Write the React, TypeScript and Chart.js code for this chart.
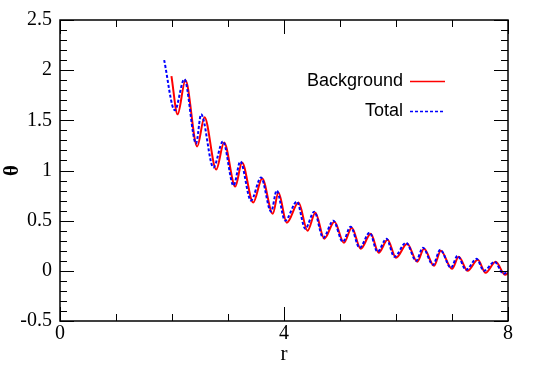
import { useEffect, useRef } from 'react';
import { Chart, registerables } from 'chart.js';

Chart.register(...registerables);

// Background (red, solid)
const bgX = [1.99, 2.10, 2.24, 2.45, 2.58, 2.79, 2.93, 3.13, 3.25, 3.45, 3.61, 3.80, 3.90, 4.05, 4.26, 4.42, 4.56, 4.72, 4.90, 5.07, 5.21, 5.37, 5.55, 5.69, 5.85, 6.00, 6.20, 6.38, 6.50, 6.68, 6.80, 7.00, 7.12, 7.28, 7.46, 7.60, 7.78, 7.95, 8.0];
const bgY = [1.94, 1.56, 1.90, 1.24, 1.53, 1.01, 1.28, 0.84, 1.08, 0.68, 0.92, 0.57, 0.78, 0.48, 0.68, 0.40, 0.58, 0.32, 0.49, 0.28, 0.43, 0.22, 0.37, 0.18, 0.31, 0.13, 0.27, 0.09, 0.22, 0.05, 0.20, 0.02, 0.14, 0.00, 0.11, -0.02, 0.09, -0.04, -0.02];

// Total (blue, dashed)
const totX = [1.86, 2.05, 2.22, 2.43, 2.52, 2.74, 2.91, 3.10, 3.22, 3.41, 3.59, 3.77, 3.87, 4.02, 4.23, 4.38, 4.54, 4.70, 4.88, 5.05, 5.19, 5.35, 5.53, 5.67, 5.83, 5.97, 6.18, 6.36, 6.48, 6.66, 6.79, 6.98, 7.10, 7.25, 7.44, 7.57, 7.76, 7.92, 8.0];
const totY = [2.10, 1.60, 1.91, 1.27, 1.56, 1.03, 1.29, 0.85, 1.09, 0.70, 0.93, 0.59, 0.80, 0.50, 0.69, 0.42, 0.59, 0.33, 0.50, 0.29, 0.44, 0.23, 0.38, 0.19, 0.32, 0.14, 0.28, 0.10, 0.23, 0.06, 0.21, 0.03, 0.15, 0.01, 0.12, 0.00, 0.09, -0.03, 0.00];

const seriesLabels = ['Background', 'Total'];
const xRange = [0, 8];
const yRange = [-0.5, 2.5];
const xMajor = 4;
const xMinor = 1;
const yMajor = 0.5;
const yMinor = 0.1;

const framePlugin = {
  id: 'frame',
  afterDraw(chart: any) {
    const { ctx, chartArea, scales } = chart;
    const { left, right, top, bottom } = chartArea;
    const xs = scales.x;
    const ys = scales.y;
    ctx.save();
    ctx.strokeStyle = '#000';
    ctx.lineWidth = 1;
    const nx = Math.round((xRange[1] - xRange[0]) / xMinor);
    for (let i = 0; i <= nx; i++) {
      const v = xRange[0] + i * xMinor;
      const major = Math.abs(v / xMajor - Math.round(v / xMajor)) < 1e-6;
      const len = major ? 14 : 7;
      const px = Math.round(xs.getPixelForValue(v)) + 0.5;
      ctx.beginPath();
      ctx.moveTo(px, bottom);
      ctx.lineTo(px, bottom - len);
      ctx.moveTo(px, top);
      ctx.lineTo(px, top + len);
      ctx.stroke();
    }
    const ny = Math.round((yRange[1] - yRange[0]) / yMinor);
    for (let i = 0; i <= ny; i++) {
      const v = yRange[0] + i * yMinor;
      const major = Math.abs(v / yMajor - Math.round(v / yMajor)) < 1e-6;
      const len = major ? 14 : 7;
      const py = Math.round(ys.getPixelForValue(v)) + 0.5;
      ctx.beginPath();
      ctx.moveTo(left, py);
      ctx.lineTo(left + len, py);
      ctx.moveTo(right, py);
      ctx.lineTo(right - len, py);
      ctx.stroke();
    }
    ctx.lineWidth = 1.5;
    ctx.strokeRect(left, top, right - left, bottom - top);

    // legend
    ctx.font = '18px "Liberation Sans", Arial, sans-serif';
    ctx.textAlign = 'right';
    ctx.textBaseline = 'middle';
    ctx.fillStyle = '#000';
    const ds = chart.data.datasets;
    const rows = [81, 111];
    ds.forEach((d: any, i: number) => {
      const yy = rows[i];
      ctx.fillText(d.label, 403, yy);
      ctx.beginPath();
      ctx.strokeStyle = d.borderColor;
      ctx.lineWidth = 1.5;
      ctx.setLineDash(d.borderDash || []);
      ctx.moveTo(410, yy + 0.5);
      ctx.lineTo(445, yy + 0.5);
      ctx.stroke();
      ctx.setLineDash([]);
    });
    ctx.restore();
  },
};

const fmt = (v: any) => String(Math.round(Number(v) * 10) / 10);

export default function App() {
  const ref = useRef<HTMLCanvasElement>(null);
  useEffect(() => {
    if (!ref.current) return;
    const serif = '"Liberation Serif", "Times New Roman", serif';
    const chart = new Chart(ref.current, {
      type: 'line',
      data: {
        datasets: [
          {
            label: seriesLabels[0],
            data: bgX.map((x, i) => ({ x, y: bgY[i] })),
            borderColor: '#ff0000',
            borderWidth: 2,
            pointRadius: 0,
            cubicInterpolationMode: 'monotone',
            fill: false,
            order: 2,
          },
          {
            label: seriesLabels[1],
            data: totX.map((x, i) => ({ x, y: totY[i] })),
            borderColor: '#0000ff',
            borderWidth: 2,
            borderDash: [3, 2],
            pointRadius: 0,
            cubicInterpolationMode: 'monotone',
            fill: false,
            order: 1,
          },
        ],
      },
      options: {
        responsive: false,
        animation: false,
        devicePixelRatio: 1,
        layout: { padding: { top: 14, right: 37, left: 0, bottom: 0 } },
        plugins: { legend: { display: false }, tooltip: { enabled: false } },
        scales: {
          x: {
            type: 'linear',
            min: xRange[0],
            max: xRange[1],
            grid: { display: false, drawTicks: false },
            border: { display: false },
            ticks: { stepSize: xMajor, color: '#000', font: { family: serif, size: 20 }, padding: 1, maxRotation: 0, callback: fmt },
            title: { display: true, text: 'r', color: '#000', font: { family: serif, size: 21 }, padding: { top: 0, bottom: 15 } },
            afterFit: (s: any) => { s.height = 61; },
          },
          y: {
            type: 'linear',
            min: yRange[0],
            max: yRange[1],
            grid: { display: false, drawTicks: false },
            border: { display: false },
            ticks: { stepSize: yMajor, color: '#000', font: { family: serif, size: 20 }, padding: 8, callback: fmt },
            title: { display: true, text: 'θ', color: '#000', font: { family: serif, size: 21, weight: 'bold' }, padding: { top: 0, bottom: 0 } },
            afterFit: (s: any) => { s.width = 60; },
          },
        },
      },
      plugins: [framePlugin],
    } as any);
    return () => chart.destroy();
  }, []);
  return (
    <div style={{ position: 'fixed', left: 0, top: 0, width: 545, height: 382, background: '#fff' }}>
      <canvas ref={ref} width={545} height={382} />
    </div>
  );
}
